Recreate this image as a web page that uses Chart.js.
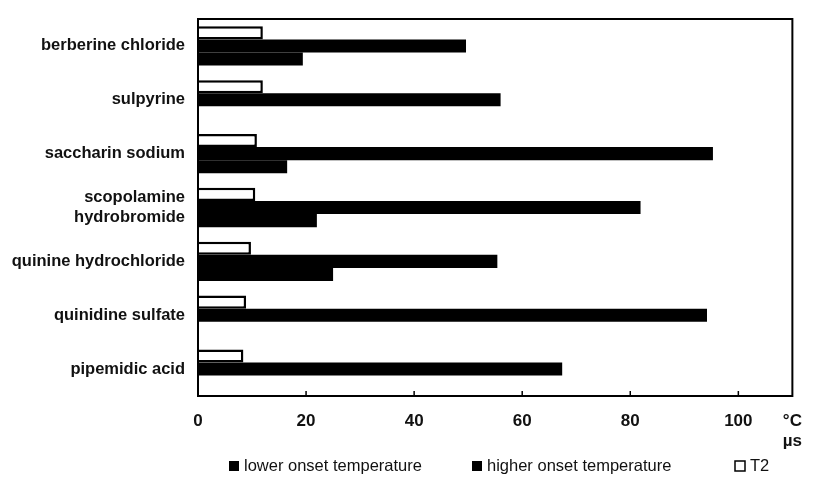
<!DOCTYPE html>
<html>
<head>
<meta charset="utf-8">
<script src="https://cdn.jsdelivr.net/npm/chart.js@4.4.0/dist/chart.umd.min.js"></script>
<style>
  html, body { margin: 0; padding: 0; background: #fff; }
</style>
</head>
<body>
<canvas id="myChart" width="817" height="489"></canvas>
<script>
// data
const categories = [
    'berberine chloride',
    'sulpyrine',
    'saccharin sodium',
    ['scopolamine', 'hydrobromide'],
    'quinine hydrochloride',
    'quinidine sulfate',
    'pipemidic acid'
]
const t2 = [12.0, 12.0, 10.9, 10.6, 9.8, 8.9, 8.4]
const higherOnset = [49.6, 56, 95.3, 81.9, 55.4, 94.2, 67.4]
const lowerOnset = [19.4, null, 16.5, 22, 25, null, null]

const xTicks = [0, 20, 40, 60, 80, 100, 110]
const unitLabel = ['°C', 'µs']
const seriesNames = ['T2', 'higher onset temperature', 'lower onset temperature']

const fontFamily = '"Liberation Sans", Arial, sans-serif'

// box around the plot + little inward ticks on the bottom axis
const frame = {
    id: 'frame',
    afterDatasetsDraw(chart) {
        const ctx = chart.ctx
        const a = chart.chartArea
        const x = chart.scales.x
        ctx.save()
        ctx.strokeStyle = '#000'
        ctx.lineWidth = 2
        ctx.strokeRect(a.left, a.top, a.right - a.left, a.bottom - a.top)
        ctx.lineWidth = 1.5
        xTicks.forEach(v => {
            if (v > 0 && v < 110) {
                const px = x.getPixelForValue(v)
                ctx.beginPath()
                ctx.moveTo(px, a.bottom)
                ctx.lineTo(px, a.bottom - 5)
                ctx.stroke()
            }
        })
        ctx.restore()
    }
}

// legend row, spread out like the original
const legendX = [229, 472, 735]
const bottomLegend = {
    id: 'bottomLegend',
    afterDraw(chart) {
        const ctx = chart.ctx
        const sets = chart.data.datasets.slice().reverse()
        const y = 466
        ctx.save()
        ctx.font = '16.5px ' + fontFamily
        ctx.textBaseline = 'middle'
        sets.forEach((ds, i) => {
            const bx = legendX[i]
            ctx.fillStyle = ds.backgroundColor
            ctx.fillRect(bx, y - 5, 10, 10)
            if (ds.borderWidth) {
                ctx.strokeStyle = '#000'
                ctx.lineWidth = 1.5
                ctx.strokeRect(bx, y - 5, 10, 10)
            }
            ctx.fillStyle = '#111'
            ctx.fillText(ds.label, bx + 15, y)
        })
        ctx.restore()
    }
}

const ctx = document.getElementById('myChart')

const myChart = new Chart(ctx, {
    type: 'bar',
    data: {
        labels: categories,
        datasets: [
            {
                label: seriesNames[0],
                data: t2,
                backgroundColor: '#fff',
                borderColor: '#000',
                borderWidth: 2.5,
                borderSkipped: 'start'
            },
            {
                label: seriesNames[1],
                data: higherOnset,
                backgroundColor: '#000'
            },
            {
                label: seriesNames[2],
                data: lowerOnset,
                backgroundColor: '#000'
            }
        ]
    },
    options: {
        indexAxis: 'y',
        responsive: false,
        animation: false,
        devicePixelRatio: 1,
        datasets: {
            bar: { barPercentage: 1, categoryPercentage: 0.73 }
        },
        layout: { padding: { top: 19, right: 17, left: 0, bottom: 0 } },
        scales: {
            x: {
                type: 'linear',
                min: 0,
                max: 110,
                grid: { display: false, drawTicks: false },
                border: { display: false },
                afterBuildTicks: s => { s.ticks = xTicks.map(v => ({ value: v })) },
                afterFit: s => { s.height = 93 },
                ticks: {
                    padding: 15,
                    color: '#111',
                    maxRotation: 0,
                    autoSkip: false,
                    font: { family: fontFamily, size: 17, weight: 'bold' },
                    callback: v => v === 110 ? unitLabel : v
                }
            },
            y: {
                grid: { display: false, drawTicks: false },
                border: { display: false },
                afterFit: s => {
                    s.width = 198
                    s.paddingTop = 0
                    s.paddingBottom = 0
                },
                ticks: {
                    padding: 13,
                    color: '#111',
                    font: { family: fontFamily, size: 16.5, weight: 'bold' }
                }
            }
        },
        plugins: {
            legend: { display: false },
            tooltip: { enabled: false }
        }
    },
    plugins: [frame, bottomLegend]
})
</script>
</body>
</html>
